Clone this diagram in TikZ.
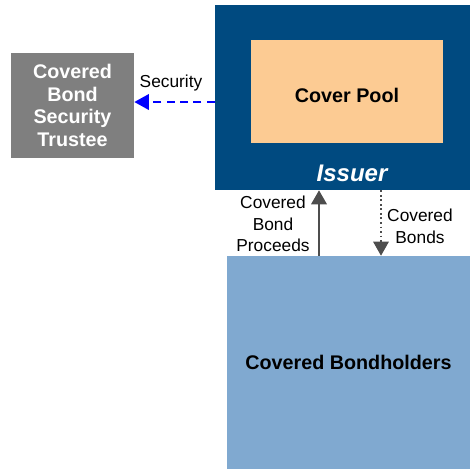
\documentclass[tikz,border=0pt]{standalone}
\usepackage{fontspec}
\setmainfont{Liberation Sans}
\usetikzlibrary{arrows.meta}

\definecolor{issuerblue}{HTML}{004A80}
\definecolor{poolorange}{HTML}{FCCB93}
\definecolor{trusteegray}{HTML}{7F7F7F}
\definecolor{holderblue}{HTML}{80A9D0}
\definecolor{arrowgray}{HTML}{4D4D4D}

\begin{document}
\begin{tikzpicture}[x=0.75pt, y=-0.75pt,
    box/.style={rectangle, inner sep=0pt, align=center, font=\fontsize{14.8}{16.9}\selectfont\bfseries},
    lbl/.style={align=center, inner sep=0pt, font=\fontsize{13}{16.3}\selectfont},
    flow/.style={line width=1.8pt, arrowgray, -{Triangle[width=11.5pt, length=10.5pt]}}
  ]
  \useasboundingbox (0,0) rectangle (471,469);

  % issuer with the cover pool inside
  \node[box, fill=issuerblue, minimum width=191.25pt, minimum height=138.75pt] (issuer) at (342.5,97.5) {};
  \node[box, fill=poolorange, minimum width=144pt, minimum height=77.25pt] (pool) at (347,91.5) {};
  \node[box] (poollbl) at (347,95) {Cover Pool};
  \node[inner sep=0pt, text=white, font=\fontsize{18}{20}\selectfont\bfseries\itshape] (issuerlbl) at (352,173) {Issuer};

  % trustee and bondholders
  \node[box, fill=trusteegray, text=white, minimum width=92.25pt, minimum height=78.75pt] (trustee) at (72.5,105.5) {Covered\\Bond\\Security\\Trustee};
  \node[box, fill=holderblue, minimum width=182.25pt, minimum height=159.75pt] (holders) at (348.5,362.5) {Covered Bondholders};

  % security given to the trustee
  \draw[blue, line width=2pt, dash pattern=on 6pt off 4pt, -{Triangle[width=11.5pt, length=11pt]}] (issuer.west |- 0,102) -- (trustee.east |- 0,102);
  \node[lbl] (seclbl) at (171,83) {Security};

  % proceeds up, bonds down
  \draw[flow] (holders.north -| 319,0) -- (issuer.south -| 319,0);
  \draw[flow, line width=1.4pt, dotted] (issuer.south -| 381,0) -- (holders.north -| 381,0);
  \node[lbl] (proclbl) at (273,224) {Covered\\Bond\\Proceeds};
  \node[lbl] (bondlbl) at (420,226) {Covered\\Bonds};

\end{tikzpicture}
\end{document}
